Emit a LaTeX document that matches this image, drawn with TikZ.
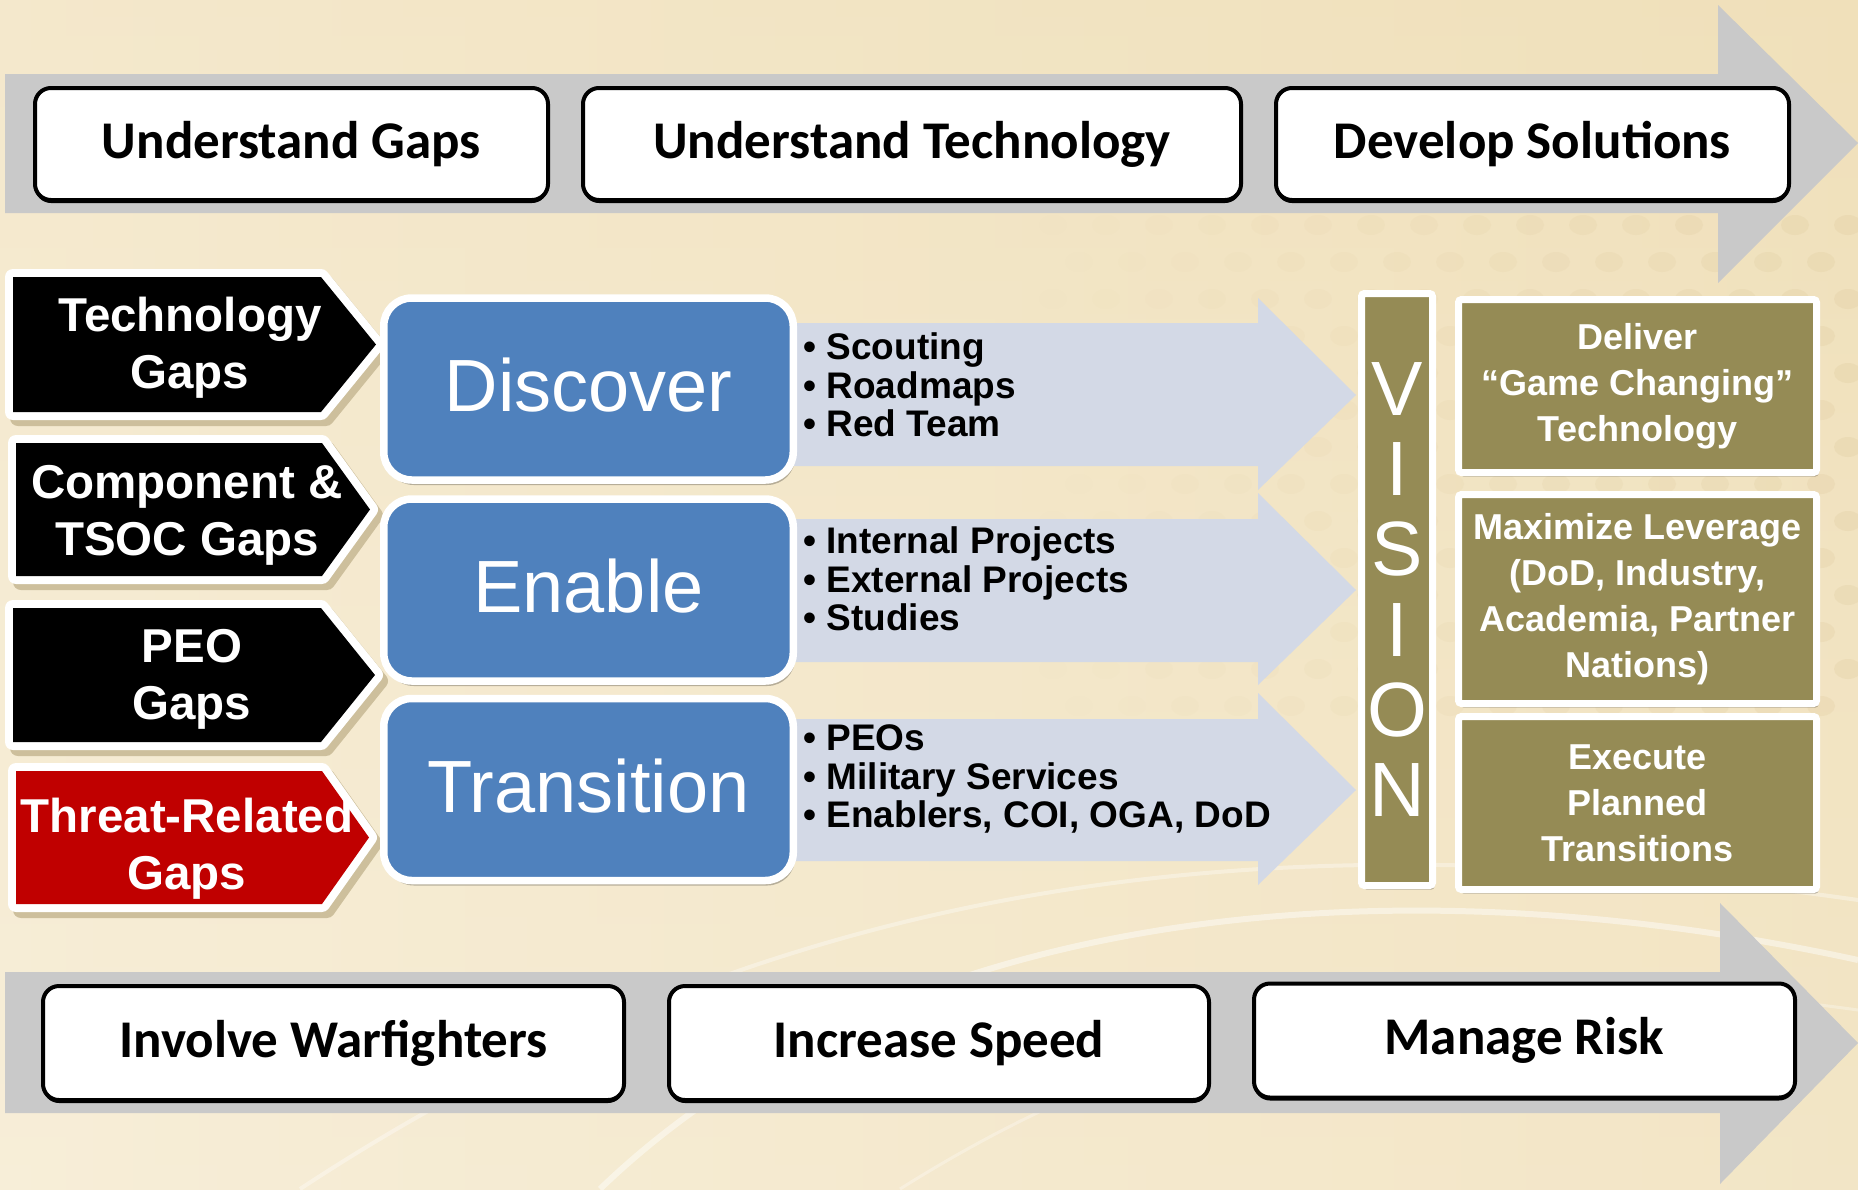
\documentclass[tikz,border=0pt]{standalone}
\usepackage{fontspec}
\newfontfamily\arialf{Liberation Sans}
\newfontfamily\calf{Carlito}
\usetikzlibrary{shadows}
\definecolor{bgA}{HTML}{F7EED8}
\definecolor{bgB}{HTML}{F0E0BA}
\definecolor{dotc}{HTML}{DDC89A}
\definecolor{arrgray}{HTML}{C9C9C9}
\definecolor{lblue}{HTML}{D3D9E6}
\definecolor{boxblue}{HTML}{4F81BD}
\definecolor{olive}{HTML}{958B55}
\definecolor{threat}{HTML}{C00000}
\definecolor{shadowc}{HTML}{CDBF9C}
\newcommand\mychev[6]{% x0, xb, xt, y0, y1, colour
  \pgfmathsetmacro\ymid{(#4+#5)/2}
  \begin{scope}[shift={(5,6)}]
    \filldraw[shadowc, line width=8pt, line join=round]
      (#1,#4) -- (#2,#4) -- (#3,\ymid) -- (#2,#5) -- (#1,#5) -- cycle;
  \end{scope}
  \filldraw[white, line width=8pt, line join=round]
    (#1,#4) -- (#2,#4) -- (#3,\ymid) -- (#2,#5) -- (#1,#5) -- cycle;
  \fill[#6] (#1,#4) -- (#2,#4) -- (#3,\ymid) -- (#2,#5) -- (#1,#5) -- cycle;
}
\tikzset{
  topbox/.style={draw=black, line width=2pt, fill=white, rounded corners=8pt,
    font=\calf\bfseries\fontsize{26.5}{30}\selectfont, inner sep=0pt,
    drop shadow={shadow xshift=0pt, shadow yshift=-1.5pt, opacity=1, fill=black}},
  chevtext/.style={text=white, font=\arialf\bfseries\fontsize{23.75}{28.5}\selectfont,
    align=center, inner sep=0pt},
  bluebox/.style={draw=white, line width=3.75pt, fill=boxblue, rounded corners=14pt,
    minimum width=204.75pt, minimum height=91pt, inner sep=0pt, text=white,
    text height=26.5pt, text depth=4pt,
    font=\arialf\fontsize{37}{40}\selectfont,
    drop shadow={shadow xshift=1pt, shadow yshift=-2.5pt, opacity=.25, fill=black}},
  olivebox/.style={draw=white, line width=3.5pt, fill=olive, rounded corners=1.5pt,
    minimum width=179pt, inner sep=0pt, text=white, align=center,
    font=\arialf\bfseries\fontsize{18}{23}\selectfont,
    drop shadow={shadow xshift=1pt, shadow yshift=-2pt, opacity=.25, fill=black}},
  bullets/.style={anchor=west, align=left, inner sep=0pt,
    font=\arialf\bfseries\fontsize{18.5}{19.25}\selectfont},
}
\begin{document}
\begin{tikzpicture}[x=0.5pt, y=-0.5pt]
\useasboundingbox (0,0) rectangle (1858,1189);
% background
\shade[top color=bgB, bottom color=bgA, middle color=bgA!60!bgB] (0,0) rectangle (1858,1189);
\shade[left color=bgA, right color=bgB, opacity=.6] (0,0) rectangle (1858,1189);
\foreach \r in {0,...,13}{
  \foreach \c in {0,...,16}{
    \pgfmathsetmacro\xx{1000+\c*53+mod(\r,2)*26}
    \pgfmathsetmacro\yy{225+\r*37}
    \pgfmathsetmacro\op{0.25*(\c/16)}
    \fill[dotc, opacity=\op] (\xx,\yy) ellipse [x radius=14, y radius=10];
  }
}
\draw[white, opacity=.45, line width=3pt] (600,1189) .. controls (900,900) and (1400,860) .. (1858,960);
\draw[white, opacity=.35, line width=2pt] (300,1189) .. controls (800,860) and (1300,820) .. (1858,900);
\draw[white, opacity=.3, line width=1.5pt] (900,1189) .. controls (1200,1000) and (1500,960) .. (1858,1010);
% top grey arrow
\fill[arrgray] (5,74) -- (1718,74) -- (1718,5) -- (1858,143) -- (1718,283) -- (1718,213) -- (5,213) -- cycle;
\node[topbox, minimum width=256.5pt, minimum height=56pt] (ugaps) at (291.5,144) {Understand Gaps};
\node[topbox, minimum width=329pt, minimum height=56pt] (utech) at (912,144) {Understand Technology};
\node[topbox, minimum width=256.5pt, minimum height=56pt] (dsol) at (1532.5,144) {Develop Solutions};
% bottom grey arrow
\fill[arrgray] (5,972) -- (1720,972) -- (1720,903) -- (1858,1043) -- (1720,1184) -- (1720,1113) -- (5,1113) -- cycle;
\node[topbox, minimum width=290.5pt, minimum height=57pt] (invw) at (333.5,1043) {Involve Warfighters};
\node[topbox, minimum width=270pt, minimum height=57pt] (incs) at (939,1043) {Increase Speed};
\node[topbox, minimum width=270.5pt, minimum height=57pt] (mrisk) at (1524.5,1040.5) {Manage Risk};
% light blue arrows
\fill[lblue] (780,323) -- (1258,323) -- (1258,298) -- (1356,395) -- (1258,490) -- (1258,466) -- (780,466) -- cycle;
\fill[lblue] (780,519) -- (1258,519) -- (1258,493) -- (1356,590) -- (1258,685) -- (1258,662) -- (780,662) -- cycle;
\fill[lblue] (780,719) -- (1258,719) -- (1258,693) -- (1356,790) -- (1258,885) -- (1258,861) -- (780,861) -- cycle;
% chevrons
\mychev{13}{321}{376}{277}{412}{black}
\mychev{16}{322}{370}{443}{576}{black}
\mychev{13}{321}{375}{608}{742}{black}
\mychev{16}{322}{369}{771}{904}{threat}
\node[chevtext] (tgap) at (190,348) {Technology\\Gaps};
\node[chevtext] (cgap) at (187,515) {Component \&\\TSOC Gaps};
\node[chevtext] (pgap) at (192,679) {PEO\\Gaps};
\node[chevtext] (rgap) at (187,849) {Threat-Related\\Gaps};
% blue boxes
\node[bluebox] (disc) at (588.5,389) {Discover};
\node[bluebox] (enab) at (588.5,590) {Enable};
\node[bluebox] (tran) at (588.5,789.5) {Transition};
% bullet lists
\node[bullets] (l1) at (803,385) {• Scouting\\• Roadmaps\\• Red Team};
\node[bullets] (l2) at (803,579) {• Internal Projects\\• External Projects\\• Studies};
\node[bullets] (l3) at (803,779) {• PEOs\\• Military Services\\• Enablers, COI, OGA, DoD};
% vision
\node[olivebox, minimum width=35.5pt, minimum height=296pt,
      font=\arialf\fontsize{38.5}{40.1}\selectfont] (vis) at (1397,589.5) {V\\I\\S\\I\\O\\N};
\node[olivebox, minimum height=86.5pt] (o1) at (1637.5,386) {Deliver\\“Game Changing”\\Technology};
\node[olivebox, minimum height=104.5pt] (o2) at (1637.5,599) {Maximize Leverage\\(DoD, Industry,\\Academia, Partner\\Nations)};
\node[olivebox, minimum height=86.5pt] (o3) at (1637.5,803) {Execute\\Planned\\Transitions};
\end{tikzpicture}
\end{document}
